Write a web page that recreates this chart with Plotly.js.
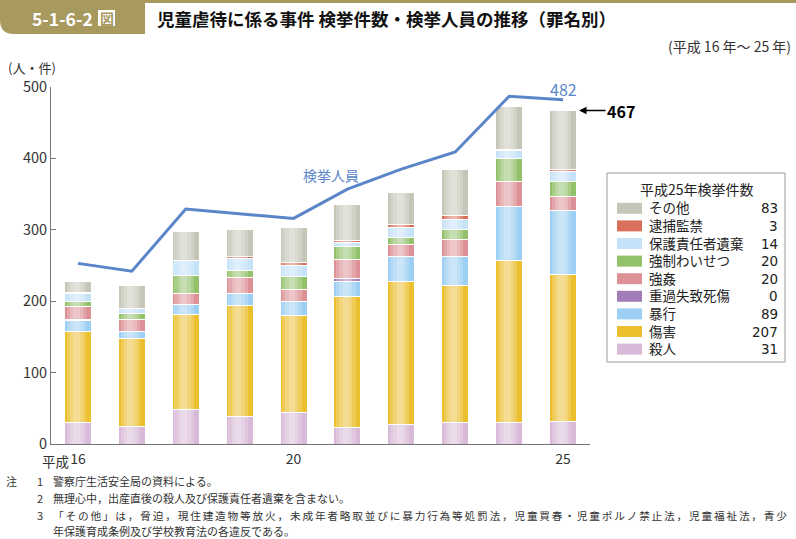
<!DOCTYPE html>
<html><head><meta charset="utf-8">
<script src="https://cdn.plot.ly/plotly-3.0.1.min.js"></script>
<style>html,body{margin:0;padding:0;background:#fff;} #chart{width:796px;height:539px;}</style>
</head><body><div id="chart"></div>
<script>
// ---- data (平成16年～25年) ----
const years = [16,17,18,19,20,21,22,23,24,25];
const tickVals = [16,20,25];
const tickText = ['16','20','25'];
const murder      = [30,24,49,39,44,23,27,30,30,31];      // 殺人
const injury      = [128,124,132,155,136,183,201,192,227,207]; // 傷害
const assault     = [15,10,14,17,19,22,35,41,76,89];      // 暴行
const negligence  = [2,0,1,0,1,4,0,0,0,0];                // 重過失致死傷
const rape        = [17,17,15,22,16,27,16,23,34,20];      // 強姦
const indecent    = [8,8,25,10,18,17,10,15,33,20];        // 強制わいせつ
const abandonment = [11,7,21,17,16,6,14,14,11,14];        // 保護責任者遺棄
const confinement = [1,0,0,2,4,3,4,5,2,3];                // 逮捕監禁
const other       = [15,32,40,38,49,50,45,64,59,83];      // その他
const persons     = [253,242,329,323,316,357,385,409,487,482]; // 検挙人員

const FONT = '"Noto Sans CJK JP", "Noto Sans", sans-serif';
const LFONT = '"DejaVu Sans", "Noto Sans CJK JP", sans-serif';
const series = [
  {name:'殺人', data:murder, color:'#d9b9d8'},
  {name:'傷害', data:injury, color:'#ebbf2e'},
  {name:'暴行', data:assault, color:'#9ccff3'},
  {name:'重過失致死傷', data:negligence, color:'#a27cb8'},
  {name:'強姦', data:rape, color:'#dd9197'},
  {name:'強制わいせつ', data:indecent, color:'#92c16a'},
  {name:'保護責任者遺棄', data:abandonment, color:'#c4e2f8'},
  {name:'逮捕監禁', data:confinement, color:'#d9705c'},
  {name:'その他', data:other, color:'#c6c6b8'}
];
const totals = years.map((_, i) => series.reduce((s, d) => s + d.data[i], 0));
const last = years.length - 1;

const traces = series.map(s => ({
  type:'bar', x:years, y:s.data, name:s.name, width:0.5,
  marker:{color:s.color, line:{color:'#ffffff', width:1}},
  showlegend:false, hoverinfo:'skip'
}));
// cylindrical highlight overlays
const hw = [0.36, 0.24, 0.12];
hw.forEach((w, k) => {
  traces.push({type:'bar', x:years, y:totals, width:w, offset:-w/2 - 0.03,
    xaxis:'x' + (k + 2), yaxis:'y',
    marker:{color:'rgba(255,255,255,0.2)', line:{width:0}},
    showlegend:false, hoverinfo:'skip'});
});
traces.push({type:'scatter', mode:'lines', x:years, y:persons, xaxis:'x5', yaxis:'y',
  line:{color:'#5b85c9', width:3}, showlegend:false, hoverinfo:'skip'});

// pixel -> paper helpers (plot area 51..590 x 87..444)
const PL = 51, PW = 539, PT = 87, PH = 357;
const fx = p => (p - PL) / PW;
const fy = p => (PT + PH - p) / PH;

const shapes = [];
const ann = [];
const gold = '#a8995f';
// header tab + line
shapes.push({type:'path', xref:'paper', yref:'paper', line:{width:0}, fillcolor:gold,
  path:`M ${fx(0)},${fy(0)} L ${fx(145)},${fy(0)} L ${fx(145)},${fy(34)} L ${fx(14)},${fy(34)} Q ${fx(0)},${fy(34)} ${fx(0)},${fy(20)} Z`});
shapes.push({type:'rect', xref:'paper', yref:'paper', line:{width:0}, fillcolor:gold,
  x0:fx(145), x1:fx(796), y0:fy(0), y1:fy(3)});
shapes.push({type:'rect', xref:'paper', yref:'paper', line:{width:0}, fillcolor:'#ffffff',
  x0:fx(98), x1:fx(115), y0:fy(10), y1:fy(26)});
ann.push({xref:'paper', yref:'paper', x:fx(94.5), y:fy(18), xanchor:'right', yanchor:'middle',
  text:'<b>5-1-6-2</b>', showarrow:false, font:{family:FONT, size:17.5, color:'#ffffff'}});
ann.push({xref:'paper', yref:'paper', x:fx(106.5), y:fy(18), xanchor:'center', yanchor:'middle',
  text:'<b>図</b>', showarrow:false, font:{family:FONT, size:14, color:gold}});
ann.push({xref:'paper', yref:'paper', x:fx(155), y:fy(18), xanchor:'left', yanchor:'middle',
  text:'<b>児童虐待に係る事件 検挙件数・検挙人員の推移（罪名別）</b>', showarrow:false,
  font:{family:FONT, size:17.5, color:'#111'}});
ann.push({xref:'paper', yref:'paper', x:fx(793), y:fy(46), xanchor:'right', yanchor:'middle',
  text:'(平成 16 年～ 25 年)', showarrow:false, font:{family:FONT, size:14, color:'#333'}});
ann.push({xref:'paper', yref:'paper', x:fx(6), y:fy(67), xanchor:'left', yanchor:'middle',
  text:'(人・件)', showarrow:false, font:{family:FONT, size:13, color:'#333'}});
// x-axis era prefix
ann.push({xref:'x', yref:'paper', x:years[0], xshift:-8, y:fy(462), xanchor:'right', yanchor:'middle',
  text:'平成', showarrow:false, borderpad:0, font:{family:LFONT, size:13.5, color:'#333'}});
// line labels
ann.push({xref:'paper', yref:'paper', x:fx(331), y:fy(175), xanchor:'center', yanchor:'middle',
  text:'検挙人員', showarrow:false, font:{family:FONT, size:14, color:'#5b85c9'}});
ann.push({xref:'x', yref:'y', x:years[last], y:persons[last], yshift:11, xanchor:'center', yanchor:'middle',
  text:String(persons[last]), showarrow:false, font:{family:FONT, size:16, color:'#5b85c9'}});
ann.push({xref:'x', yref:'y', x:years[last], y:totals[last], xshift:16, ax:42, ay:0,
  text:'<b>' + totals[last] + '</b>', showarrow:true, arrowhead:2, arrowsize:1, arrowwidth:1.5,
  arrowcolor:'#000', standoff:0, font:{family:FONT, size:16, color:'#000'}});

// custom legend (平成25年 values)
const LG = 13.5, LSTEP = 17.6, LY0 = 208.3;
shapes.push({type:'rect', xref:'paper', yref:'paper', line:{color:'#9a9a9a', width:1}, fillcolor:'rgba(0,0,0,0)',
  x0:fx(607), x1:fx(785), y0:fy(173), y1:fy(362)});
ann.push({xref:'paper', yref:'paper', x:fx(697), y:fy(189), xanchor:'center', yanchor:'middle',
  text:'平成' + years[last] + '年検挙件数', showarrow:false, font:{family:FONT, size:14, color:'#222'}});
const legendOrder = series.slice().reverse();
legendOrder.forEach((s, i) => {
  const cy = LY0 + LSTEP * i;
  shapes.push({type:'rect', xref:'paper', yref:'paper', line:{width:0}, fillcolor:s.color,
    x0:fx(617), x1:fx(642), y0:fy(cy - 5.5), y1:fy(cy + 5.5)});
  ann.push({xref:'paper', yref:'paper', x:fx(648), y:fy(cy), xanchor:'left', yanchor:'middle',
    text:s.name, showarrow:false, borderpad:0, font:{family:LFONT, size:LG, color:'#222'}});
  ann.push({xref:'paper', yref:'paper', x:fx(779), y:fy(cy), xanchor:'right', yanchor:'middle',
    text:String(s.data[last]), showarrow:false, borderpad:0, font:{family:LFONT, size:LG, color:'#222'}});
});

// notes
const noteFont = {family:FONT, size:11, color:'#333'};
const note3 = '「その他」は，脅迫，現住建造物等放火，未成年者略取並びに暴力行為等処罰法，児童買春・児童ポルノ禁止法，児童福祉法，青少';
ann.push({xref:'paper', yref:'paper', x:fx(4), y:fy(481), xanchor:'left', yanchor:'middle', text:'注', showarrow:false, font:noteFont});
[['1','警察庁生活安全局の資料による。',481, 11],
 ['2','無理心中，出産直後の殺人及び保護責任者遺棄を含まない。',498, 11],
 ['3', note3.split('').join('\u2006'),515, 10.7]
].forEach(n => {
  ann.push({xref:'paper', yref:'paper', x:fx(35), y:fy(n[2]), xanchor:'left', yanchor:'middle', text:n[0], showarrow:false, font:noteFont});
  ann.push({xref:'paper', yref:'paper', x:fx(51), y:fy(n[2]), xanchor:'left', yanchor:'middle', text:n[1], showarrow:false,
    font:{family:FONT, size:n[3], color:'#333'}});
});
ann.push({xref:'paper', yref:'paper', x:fx(51), y:fy(531), xanchor:'left', yanchor:'middle',
  text:'年保護育成条例及び学校教育法の各違反である。', showarrow:false, font:noteFont});

const ovAxis = {overlaying:'x', range:[15.5, 25.5], visible:false, fixedrange:true};
const layout = {
  width:796, height:539,
  margin:{l:PL, r:796 - PL - PW, t:PT, b:539 - PT - PH, pad:0},
  paper_bgcolor:'#ffffff', plot_bgcolor:'#ffffff',
  barmode:'stack', showlegend:false, hovermode:false,
  font:{family:FONT, color:'#333'},
  xaxis:{range:[15.5, 25.5], tickvals:tickVals, ticktext:tickText, showline:true, linecolor:'#777', linewidth:1,
    ticks:'', showgrid:false, zeroline:false, ticklabelstandoff:2,
    tickfont:{family:FONT, size:14, color:'#333'}, fixedrange:true},
  xaxis2:ovAxis, xaxis3:ovAxis, xaxis4:ovAxis, xaxis5:ovAxis,
  yaxis:{range:[0, 500], tickvals:[0,100,200,300,400,500], showline:true, linecolor:'#777', linewidth:1,
    ticks:'inside', ticklen:5, tickcolor:'#777', showgrid:false, zeroline:false,
    tickfont:{family:FONT, size:14.5, color:'#333'}, fixedrange:true},
  shapes:shapes, annotations:ann
};
Plotly.newPlot('chart', traces, layout, {displayModeBar:false, staticPlot:true});
</script>
</body></html>
